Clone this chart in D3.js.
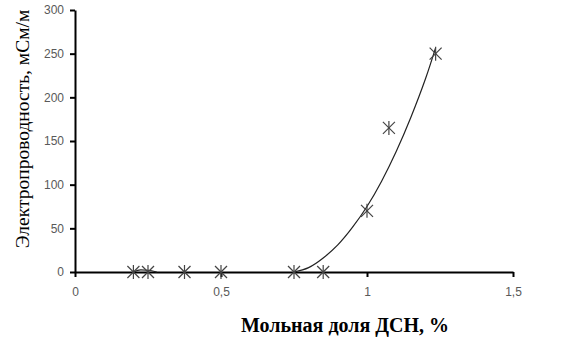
<!DOCTYPE html>
<html>
<head>
<meta charset="utf-8">
<script src="https://cdn.jsdelivr.net/npm/d3@7"></script>
<style>
  body { margin: 0; background: #fff; }
  svg { display: block; }
</style>
</head>
<body>
<div id="chart"></div>
<script>
// measured points
const xValues = [0.2, 0.25, 0.375, 0.5, 0.75, 0.85, 1.0, 1.075, 1.235];
const yValues = [0, 0, 0, 0, 0, 0, 70, 165, 250];
// trend line
const trendX = [0.75, 0.8, 0.85, 0.9, 0.95, 1.0, 1.05, 1.1, 1.15, 1.2, 1.235];
const trendY = [0, 5, 16, 31, 51, 75, 104, 138, 177, 221, 257];
// small bump of the line near the first points
const bumpX = [0.2, 0.225, 0.25, 0.28];
const bumpY = [0, 2.5, 2, 0];
const xTicks = [0, 0.5, 1, 1.5];
const yTicks = [0, 50, 100, 150, 200, 250, 300];

const width = 569, height = 338;
const margin = { left: 75, right: 56, top: 10, bottom: 66 };

const svg = d3.select("#chart").append("svg")
    .attr("width", width)
    .attr("height", height);

const x = d3.scaleLinear().domain([0, 1.5]).range([margin.left, width - margin.right]);
const y = d3.scaleLinear().domain([0, 300]).range([height - margin.bottom, margin.top]);

const fmt = d => String(d).replace(".", ",");

const xAxis = svg.append("g")
    .attr("transform", `translate(0,${y(0)})`)
    .call(d3.axisBottom(x).tickValues(xTicks).tickFormat(fmt).tickSize(5).tickSizeOuter(0).tickPadding(10));

const yAxis = svg.append("g")
    .attr("transform", `translate(${x(0)},0)`)
    .call(d3.axisLeft(y).tickValues(yTicks).tickSize(5).tickSizeOuter(0).tickPadding(6));

[xAxis, yAxis].forEach(a => {
    a.select(".domain").attr("stroke", "#000").attr("stroke-width", 2);
    a.selectAll(".tick line").attr("stroke", "#000").attr("stroke-width", 2);
    a.selectAll(".tick text")
        .attr("fill", "#595959")
        .style("font-family", "Liberation Sans, Arial, sans-serif")
        .style("font-size", "12px");
});

const line = d3.line().x(d => x(d[0])).y(d => y(d[1])).curve(d3.curveNatural);

svg.append("path")
    .datum(trendX.map((v, i) => [v, trendY[i]]))
    .attr("d", line)
    .attr("fill", "none")
    .attr("stroke", "#222")
    .attr("stroke-width", 1.2);

svg.append("path")
    .datum(bumpX.map((v, i) => [v, bumpY[i]]))
    .attr("d", line.curve(d3.curveMonotoneX))
    .attr("fill", "none")
    .attr("stroke", "#222")
    .attr("stroke-width", 1.2);

// asterisk markers
const r = 6;
const marks = svg.append("g")
    .selectAll("g")
    .data(xValues.map((v, i) => [v, yValues[i]]))
    .join("g")
    .attr("transform", d => `translate(${x(d[0])},${y(d[1])})`)
    .attr("stroke", "#444")
    .attr("stroke-width", 1.2);

marks.append("line").attr("x1", -r).attr("y1", -r).attr("x2", r).attr("y2", r);
marks.append("line").attr("x1", -r).attr("y1", r).attr("x2", r).attr("y2", -r);
marks.append("line").attr("x1", 0).attr("y1", -r - 1).attr("x2", 0).attr("y2", r + 1);

svg.append("text")
    .attr("x", 345)
    .attr("y", 332)
    .attr("text-anchor", "middle")
    .style("font-family", "Liberation Serif, Times New Roman, serif")
    .style("font-weight", "bold")
    .style("font-size", "20px")
    .text("Мольная доля ДСН, %");

svg.append("text")
    .attr("transform", "translate(29,129) rotate(-90)")
    .attr("text-anchor", "middle")
    .style("font-family", "Liberation Serif, Times New Roman, serif")
    .style("font-size", "19.5px")
    .text("Электропроводность, мСм/м");
</script>
</body>
</html>
